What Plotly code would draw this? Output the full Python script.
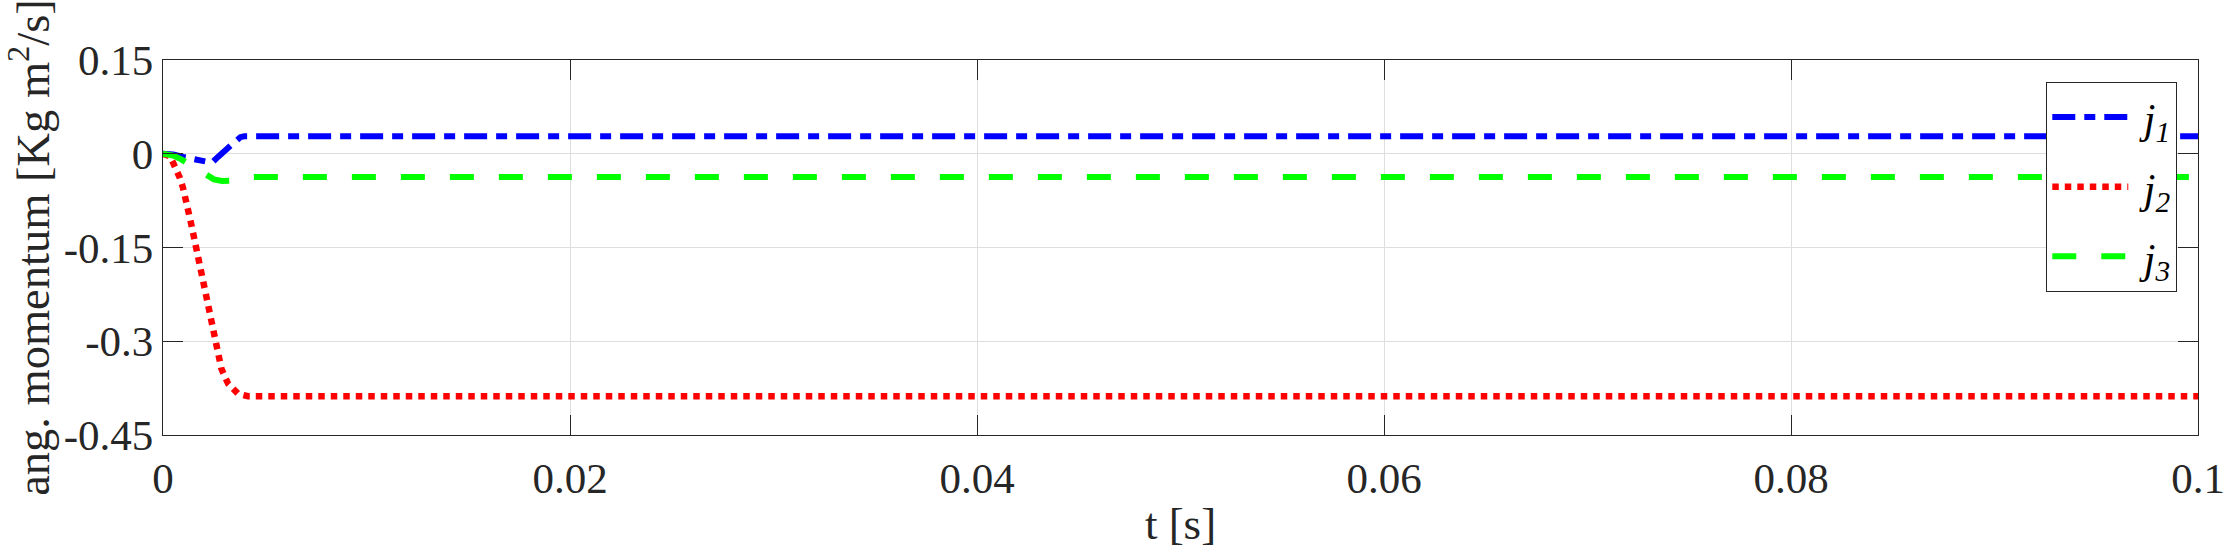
import plotly.graph_objects as go

# time in seconds
t_j1 = [0, 0.0005, 0.0010, 0.0015, 0.0018, 0.0021, 0.0024, 0.0027, 0.0030, 0.0033, 0.0036, 0.0038, 0.0040, 0.1]
j1 = [0, -0.001, -0.005, -0.008, -0.0106, -0.013, -0.0145, -0.005, 0.004, 0.013, 0.022, 0.0265, 0.028, 0.028]

t_j2 = [0, 0.00033, 0.00049, 0.00066, 0.00082, 0.00098, 0.00115, 0.00139, 0.00164, 0.00189, 0.00213,
        0.00238, 0.00262, 0.00287, 0.0032, 0.00369, 0.00418, 0.1]
j2 = [0, -0.004, -0.014, -0.025, -0.038, -0.054, -0.075, -0.113, -0.152, -0.19, -0.232,
      -0.27, -0.31, -0.344, -0.368, -0.384, -0.388, -0.388]

t_j3 = [0, 0.0005, 0.0009, 0.00115, 0.0015, 0.0019, 0.0022, 0.0025, 0.0029, 0.00335, 0.0038, 0.0043, 0.005, 0.1]
j3 = [0, -0.003, -0.009, -0.0144, -0.022, -0.030, -0.0356, -0.041, -0.0436, -0.043, -0.040, -0.0375, -0.037, -0.037]

x_ticks = [0, 0.02, 0.04, 0.06, 0.08, 0.1]
x_labels = ["0", "0.02", "0.04", "0.06", "0.08", "0.1"]
y_ticks = [0.15, 0, -0.15, -0.3, -0.45]
y_labels = ["0.15", "0", "-0.15", "-0.3", "-0.45"]

FONT = "Liberation Serif"
DARK = "#262626"

fig = go.Figure()
fig.add_trace(go.Scatter(x=t_j1, y=j1, mode="lines", name="&nbsp;<i>j</i><sub><i>1</i></sub>", legendgroup="a",
                         line=dict(color="#0000ff", width=6, dash="23px,9px,11px,9px")))
fig.add_trace(go.Scatter(x=t_j2, y=j2, mode="lines", name="&nbsp;<i>j</i><sub><i>2</i></sub>", legendgroup="b",
                         line=dict(color="#ff0000", width=6.5, dash="6.5px,6px")))
fig.add_trace(go.Scatter(x=t_j3, y=j3, mode="lines", name="&nbsp;<i>j</i><sub><i>3</i></sub>", legendgroup="c",
                         line=dict(color="#00ff00", width=6, dash="24px,25px")))

axis_common = dict(
    showline=True, linecolor=DARK, linewidth=1.3, mirror="ticks",
    ticks="inside", ticklen=20, tickwidth=1.3, tickcolor=DARK,
    showgrid=True, gridcolor="#dedede", gridwidth=1, zeroline=False,
    tickfont=dict(family=FONT, size=43, color=DARK), automargin=False,
)

fig.update_xaxes(range=[0, 0.1], tickvals=x_ticks, ticktext=x_labels, ticklabelstandoff=5,
                 title=dict(text="t [s]", font=dict(family=FONT, size=45, color=DARK), standoff=6),
                 **axis_common)
fig.update_yaxes(range=[-0.45, 0.15], tickvals=y_ticks, ticktext=y_labels,
                 title=dict(text="ang. momentum [Kg m<sup>2</sup>/s]", font=dict(family=FONT, size=46.5, color=DARK), standoff=4),
                 **axis_common)

fig.update_layout(
    width=2225, height=550,
    margin=dict(l=163, r=27, t=60, b=115),
    plot_bgcolor="white", paper_bgcolor="white",
    font=dict(family=FONT, color=DARK),
    legend=dict(x=0.9253, y=0.9415, xanchor="left", yanchor="top",
                bgcolor="white", bordercolor=DARK, borderwidth=1.3,
                font=dict(family=FONT, size=42, color="black"),
                itemwidth=76, tracegroupgap=12),
    showlegend=True,
)

fig.write_html("out.html")
